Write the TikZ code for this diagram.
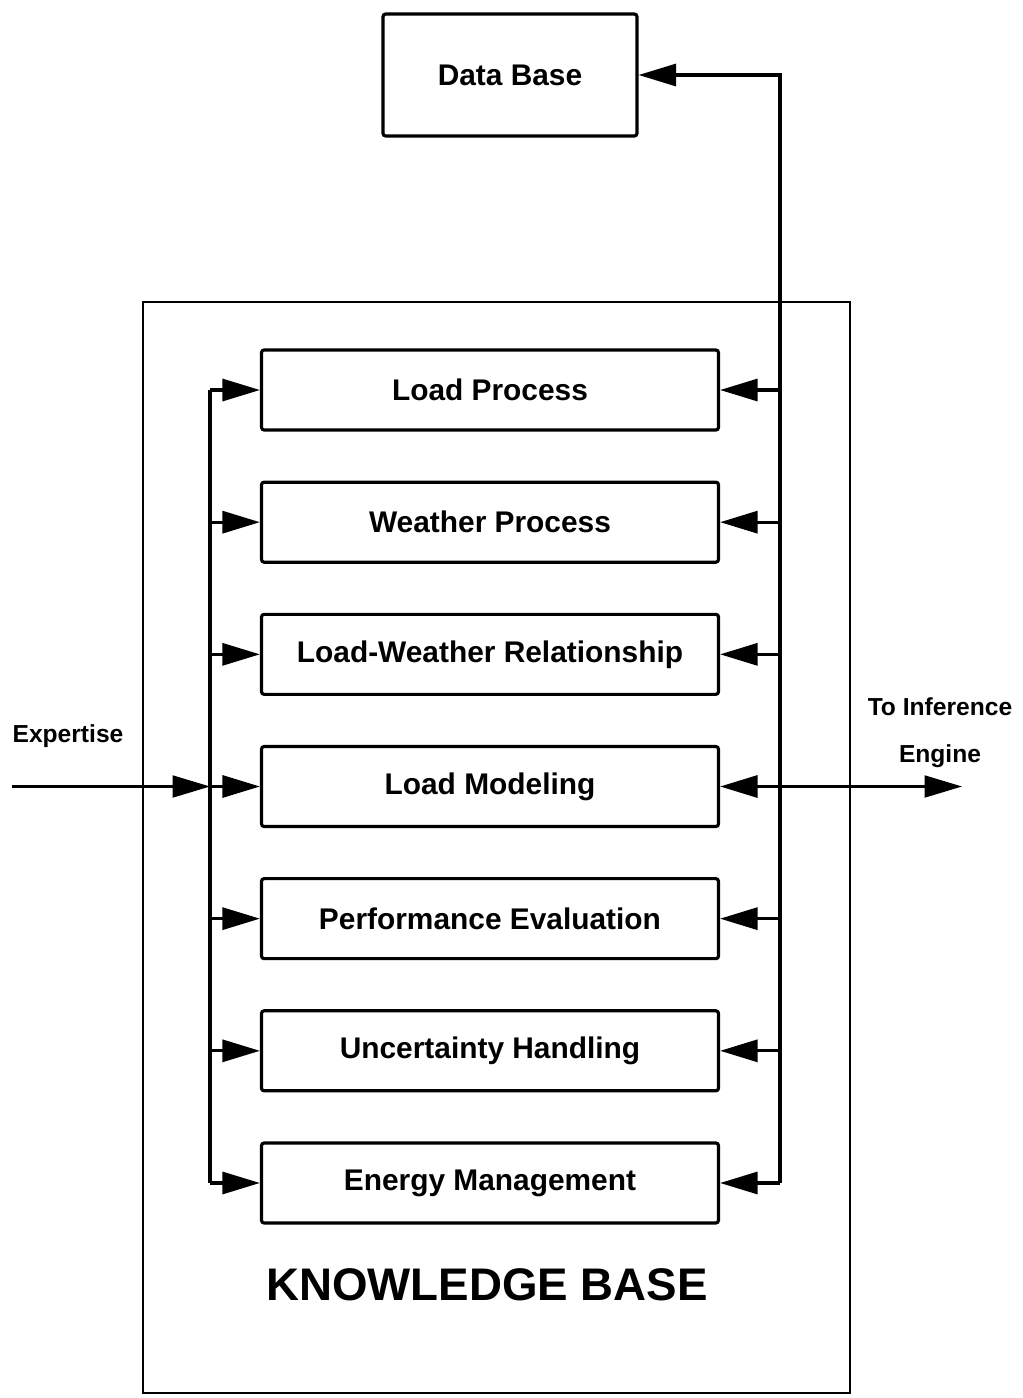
\documentclass[tikz,border=0pt]{standalone}
\usepackage{fontspec}
\setmainfont{Liberation Sans}
\usetikzlibrary{arrows.meta, positioning}

\begin{document}
\begin{tikzpicture}[
		box/.style={draw, line width=1.8pt, rounded corners=1.5pt, minimum width=9.14cm, minimum height=1.6cm, font=\fontsize{17}{20}\selectfont\bfseries},
		arr/.style={line width=1.8pt, -{Triangle[length=7.5mm, width=4.4mm]}},
		thinline/.style={line width=1.2pt}
	]
		\useasboundingbox (0,0) rectangle (20.46,-27.96);
		
		% knowledge base frame
		\draw[line width=1.4pt] (2.86,-6.04) rectangle (17.0,-27.86);
		\node[font=\fontsize{26}{30}\selectfont\bfseries] (kb) at (9.74,-25.7) {KNOWLEDGE BASE};
		
		\node[box, minimum width=5.08cm, minimum height=2.44cm] (db) at (10.2,-1.5) {Data Base};
		
		\node[box] (lp) at (9.8,-7.8) {Load Process};
		\node[box, below=0.98cm of lp] (wp) {Weather Process};
		\node[box, below=0.98cm of wp] (lw) {Load-Weather Relationship};
		\node[box, below=0.98cm of lw] (lm) {Load Modeling};
		\node[box, below=0.98cm of lm] (pe) {Performance Evaluation};
		\node[box, below=0.98cm of pe] (uh) {Uncertainty Handling};
		\node[box, below=0.98cm of uh] (em) {Energy Management};
		
		\coordinate (lbus) at (4.2,0);
		\coordinate (rbus) at (15.6,0);
		\coordinate (exp) at (0.24,0);
		\coordinate (out) at (19.24,0);
		
		% left bus
		\draw[line width=1.8pt] (lbus |- lp.west) -- (lbus |- em.west);
		\draw[arr] (lbus |- lp.west) -- (lp.west);
		\draw[arr] (lbus |- wp.west) -- (wp.west);
		\draw[arr] (lbus |- lw.west) -- (lw.west);
		\draw[arr] (lbus |- lm.west) -- (lm.west);
		\draw[arr] (lbus |- pe.west) -- (pe.west);
		\draw[arr] (lbus |- uh.west) -- (uh.west);
		\draw[arr] (lbus |- em.west) -- (em.west);
		
		% right bus, up to the data base
		\draw[arr] (rbus |- em.east) -- (rbus |- db.east) -- (db.east);
		\draw[arr] (rbus |- lp.east) -- (lp.east);
		\draw[arr] (rbus |- wp.east) -- (wp.east);
		\draw[arr] (rbus |- lw.east) -- (lw.east);
		\draw[arr] (rbus |- lm.east) -- (lm.east);
		\draw[arr] (rbus |- pe.east) -- (pe.east);
		\draw[arr] (rbus |- uh.east) -- (uh.east);
		\draw[arr] (rbus |- em.east) -- (em.east);
		
		% in and out
		\draw[arr, thinline] (exp |- lm.west) -- (lbus |- lm.west);
		\draw[arr, thinline] (rbus |- lm.east) -- (out |- lm.east);
		\node[font=\fontsize{14}{17}\selectfont\bfseries] (ex) at (1.36,-14.72) {Expertise};
		\node[font=\fontsize{14}{26.7}\selectfont\bfseries, align=center] (ie) at (18.8,-14.66) {To Inference\\Engine};
		
	\end{tikzpicture}
\end{document}
